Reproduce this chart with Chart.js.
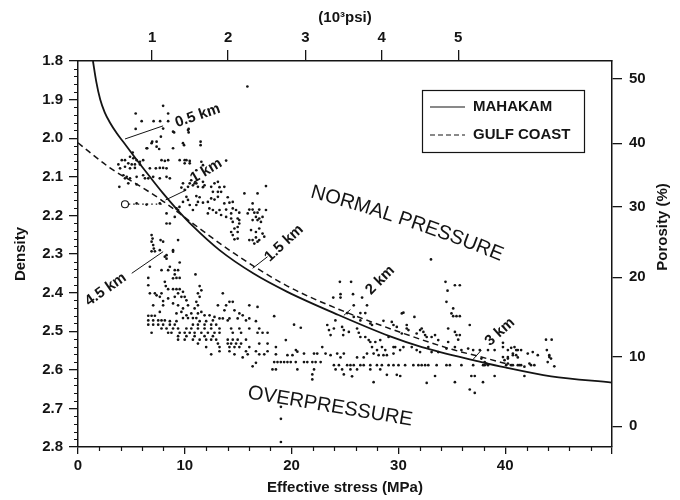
<!DOCTYPE html>
<html>
<head>
<meta charset="utf-8"/>
<script src="https://cdn.jsdelivr.net/npm/chart.js@4.4.1/dist/chart.umd.min.js"></script>
<style>
  html, body { margin: 0; padding: 0; background: #fff; }
  #wrap { width: 680px; height: 500px; }
</style>
</head>
<body>
<div id="wrap"><canvas id="chart" width="680" height="500"></canvas></div>
<script>
  // Compaction trends, [effective stress MPa, density g/cc]
  var mahakamCurve = [[1.4,1.8],[1.7,1.852],[2.08,1.9],[2.5,1.933],[3.0,1.96],[3.6,1.986],[4.25,2.01],[5.49,2.056],
    [6.73,2.1],[7.97,2.143],[9.22,2.183],[10.76,2.228],[13.25,2.29],[16.4,2.35],[19.6,2.398],[24.4,2.458],
    [29.1,2.512],[32.2,2.541],[37.5,2.578],[40,2.594],[44.3,2.617],[50,2.633]];
  var gulfCoastCurve = [[0,2.012],[3,2.077],[5.8,2.124],[7.7,2.158],[10.8,2.222],[14.6,2.298],[19.6,2.383],
    [24.4,2.443],[30.3,2.504],[35,2.547],[37.5,2.565],[40.6,2.588]];

  // Well data, grouped by area of the plot
  var shallowWells = [[7.97,1.916],[5.4,1.936],[5.96,1.956],[7.08,1.956],[7.69,1.956],[8.44,1.936],[8.44,1.956],
    [5.4,1.976],[7.97,1.975],[9.0,1.985],[10.36,1.976],[10.36,1.985],[7.76,1.996],[6.95,2.009],[7.36,2.009],
    [11.48,2.009],[11.48,2.018],[6.42,2.026],[7.36,2.022],[8.9,2.026],[9.93,2.018],[6.89,2.013],[6.48,2.026],
    [7.6,2.028],[10.3,1.979],[9.83,2.013],[5.12,2.037],[4.1,2.057],[4.4,2.057],[4.87,2.048],[5.18,2.052],
    [5.49,2.057],[5.8,2.061],[6.1,2.057],[4.71,2.065],[5.03,2.068],[5.33,2.068],[5.8,2.068],[4.4,2.074],
    [4.87,2.078],[5.33,2.077],[3.78,2.068],[3.94,2.078],[4.25,2.096],[4.56,2.1],[4.4,2.104],[4.87,2.104],
    [5.49,2.1],[6.1,2.096],[6.27,2.104],[6.58,2.104],[7.04,2.1],[7.66,2.104],[3.87,2.126],[4.71,2.117],
    [5.49,2.12],[6.73,2.078],[7.29,2.078],[7.66,2.077],[7.97,2.077],[8.29,2.078],[7.82,2.057],[8.13,2.059],
    [8.44,2.057],[8.29,2.1],[8.6,2.104],[10.15,2.057],[10.46,2.059],[10.3,2.126],[9.68,2.128],[10.6,2.109],
    [10.76,2.122],[11.08,2.117],[10.15,2.152],[10.3,2.16],[9.83,2.165],[10.46,2.173],[9.5,2.178],[9.22,2.182],
    [9.37,2.186],[5.49,2.169],[6.42,2.172],[7.66,2.169],[8.29,2.195],[9.06,2.204],[8.29,2.221],[8.6,2.221],
    [11.08,2.173],[10.76,2.186],[8.9,1.983],[9.52,2.057],[9.99,2.057],[11.08,2.083],[11.7,2.07],[11.55,2.061],
    [13.87,2.058]];

  var upperWells = [[15.86,1.866],[9.99,2.065],[10.46,2.065],[9.83,2.117],[10.46,2.117],[10.92,2.117],[11.23,2.126],
    [11.7,2.113],[11.85,2.122],[11.7,2.127],[12.47,2.126],[12.78,2.117],[13.1,2.113],[13.25,2.127],[13.7,2.126],
    [12.63,2.139],[13.1,2.139],[13.4,2.139],[9.99,2.134],[11.08,2.15],[11.39,2.153],[11.23,2.165],[11.7,2.167],
    [12.16,2.165],[12.47,2.156],[12.78,2.159],[13.1,2.152],[14.02,2.153],[14.18,2.167],[14.49,2.165],[13.7,2.169],
    [12.3,2.182],[12.63,2.186],[12.16,2.195],[12.94,2.193],[13.25,2.186],[13.4,2.199],[13.87,2.185],[14.34,2.195],
    [14.49,2.182],[14.8,2.186],[15.1,2.193],[13.87,2.204],[14.34,2.208],[14.49,2.217],[14.95,2.208],[15.1,2.212],
    [15.1,2.221],[14.95,2.23],[14.65,2.234],[14.34,2.243],[14.95,2.243],[14.49,2.251],[14.65,2.262],[14.95,2.26],
    [15.58,2.143],[16.81,2.143],[17.6,2.124],[16.04,2.185],[16.35,2.185],[16.51,2.193],[16.81,2.193],[16.97,2.185],
    [17.6,2.186],[16.66,2.204],[16.97,2.208],[17.13,2.217],[16.2,2.238],[16.66,2.243],[16.97,2.234],[17.28,2.247],
    [16.04,2.264],[16.35,2.264],[16.66,2.257],[16.97,2.264],[16.51,2.273],[16.81,2.268],[17.44,2.255],[16.35,2.169],
    [17.28,2.204],[16.81,2.212],[16.35,2.212],[15.89,2.195]];

  var deepWells = [[6.89,2.251],[6.98,2.26],[6.89,2.268],[7.04,2.277],[7.1,2.286],[6.89,2.293],[7.2,2.293],
    [7.73,2.264],[9.37,2.264],[7.97,2.268],[8.9,2.29],[7.66,2.29],[8.13,2.307],[8.29,2.303],[8.29,2.312],
    [8.9,2.294],[9.52,2.322],[8.6,2.333],[6.73,2.333],[7.82,2.342],[8.44,2.342],[9.06,2.342],[9.37,2.342],
    [9.06,2.353],[9.22,2.362],[9.52,2.362],[8.9,2.363],[11.0,2.353],[6.58,2.362],[6.58,2.381],[8.13,2.372],
    [8.22,2.383],[8.44,2.391],[8.9,2.391],[9.22,2.391],[9.52,2.391],[9.83,2.398],[9.37,2.402],[9.68,2.411],
    [9.99,2.411],[10.15,2.42],[9.06,2.411],[8.44,2.415],[7.97,2.422],[7.36,2.407],[7.2,2.402],[7.66,2.411],
    [7.82,2.402],[11.39,2.383],[11.55,2.394],[11.23,2.402],[11.39,2.411],[11.08,2.424],[11.23,2.433],[10.92,2.441],
    [7.97,2.433],[8.9,2.428],[9.37,2.433],[9.83,2.441],[10.3,2.433],[9.68,2.45],[9.22,2.454],[10.15,2.459],
    [10.61,2.454],[11.23,2.454],[11.55,2.45],[11.85,2.459],[12.32,2.459],[12.78,2.463],[13.56,2.402],[14.18,2.424],
    [13.87,2.433],[13.71,2.446],[13.1,2.433],[14.49,2.424],[16.04,2.433],[16.81,2.437],[14.65,2.446],[15.11,2.454],
    [15.42,2.459],[16.04,2.467],[13.25,2.467],[14.02,2.472],[6.73,2.402],[7.04,2.433],[7.66,2.45],
    [6.58,2.46],[6.89,2.46],[7.2,2.46],[6.58,2.472],[7.04,2.472],[7.51,2.472],[7.82,2.472],[8.13,2.472],
    [8.6,2.474],[9.22,2.474],[9.83,2.466],[10.3,2.466],[10.76,2.466],[11.08,2.466],[11.39,2.474],[12.0,2.474],
    [12.63,2.472],[13.56,2.467],[14.18,2.467],[14.95,2.467],[15.73,2.472],[16.66,2.474]];

  var deepRows = [[6.58,2.483],[7.04,2.483],[7.51,2.483],[7.97,2.483],[8.6,2.483],[9.06,2.483],[10.76,2.483],
    [11.23,2.483],[11.85,2.483],[12.47,2.483],[12.94,2.483],
    [7.82,2.493],[8.29,2.493],[8.9,2.493],[9.37,2.493],[10.15,2.493],[10.61,2.493],[11.23,2.493],[11.85,2.493],
    [12.47,2.493],[13.25,2.493],[14.34,2.493],[15.11,2.493],[16.04,2.493],[16.97,2.493],
    [6.89,2.504],[8.44,2.504],[8.75,2.504],[9.52,2.504],[9.99,2.504],[10.46,2.504],[10.92,2.504],[11.55,2.504],
    [12.16,2.504],[12.78,2.504],[13.25,2.504],[14.49,2.504],[15.27,2.504],[16.81,2.504],[17.28,2.504],[17.75,2.504],
    [9.37,2.513],[10.15,2.513],[10.92,2.513],[11.85,2.513],[12.63,2.513],
    [9.37,2.522],[9.99,2.522],[10.76,2.522],[11.39,2.522],[12.0,2.522],[12.47,2.522],[12.94,2.522],[14.02,2.522],
    [14.49,2.522],[14.95,2.522],[15.73,2.522],
    [11.23,2.532],[13.1,2.532],[14.02,2.532],[14.34,2.532],[14.8,2.532],[15.27,2.532],[16.97,2.532],[17.75,2.532],
    [12.0,2.541],[13.25,2.541],[14.18,2.541],[14.65,2.541],[15.11,2.541],[16.04,2.541],[18.53,2.541],
    [13.25,2.552],[14.18,2.552],[15.73,2.552],[16.66,2.552],[17.75,2.552],
    [12.47,2.56],[14.65,2.56],[15.89,2.56],[16.97,2.56],[17.44,2.56],[18.53,2.56],
    [15.42,2.568],[16.35,2.591],[16.66,2.582]];

  var midWells = [[24.52,2.372],[25.57,2.372],[23.9,2.413],[24.58,2.404],[24.58,2.413],[25.75,2.404],[26.6,2.413],
    [25.82,2.433],[27.06,2.433],[18.37,2.461],[20.23,2.483],[20.86,2.491],[24.1,2.472],[25.2,2.453],[25.82,2.463],
    [26.44,2.453],[26.9,2.453],[26.44,2.472],[27.37,2.48],[27.53,2.484],[28.6,2.473],[29.54,2.484],[30.32,2.454],
    [23.34,2.484],[23.5,2.497],[23.96,2.493],[23.65,2.51],[24.73,2.489],[24.89,2.497],[24.83,2.51],[25.36,2.502],
    [26.13,2.493],[26.29,2.504],[26.44,2.515],[26.9,2.515],[27.22,2.523],[27.37,2.528],[27.53,2.541],[27.84,2.528],
    [28.0,2.549],[28.3,2.523],[28.46,2.541],[28.77,2.549],[28.92,2.562],[28.15,2.562],[29.08,2.515],[29.54,2.541],
    [30.16,2.549],[30.32,2.506],[19.46,2.523],[20.4,2.549],[20.54,2.553],[19.61,2.562],[20.08,2.562],
    [21.16,2.558],[22.1,2.558],[22.4,2.558],[22.87,2.541],[23.18,2.558],[23.65,2.562],[24.58,2.568],[24.27,2.558],
    [24.89,2.558],[26.13,2.568],[26.75,2.568],[27.06,2.558],[27.68,2.558],[28.6,2.562],[29.54,2.558],
    [18.37,2.58],[18.68,2.58],[18.99,2.58],[19.3,2.58],[19.61,2.58],[19.92,2.58],[20.39,2.58],[21.16,2.58],
    [21.47,2.58],[21.94,2.58],[22.25,2.58],[22.72,2.58],[23.96,2.588],[24.43,2.588],[25.2,2.588],[25.51,2.588],
    [25.82,2.588],[26.44,2.588],[26.75,2.588],[27.37,2.588],[27.99,2.588],[28.45,2.588],[29.08,2.588],[29.54,2.588],
    [30.01,2.588],[18.21,2.599],[18.53,2.599],[20.54,2.599],[22.1,2.599],[24.12,2.599],[24.73,2.599],[25.51,2.599],
    [26.13,2.599],[27.37,2.599],[28.3,2.599],[21.94,2.612],[24.89,2.612],[25.66,2.617],[21.94,2.625],[28.92,2.613],
    [29.85,2.613],[27.68,2.632],[19.0,2.696],[19.0,2.727],[19.0,2.787]];

  var eastWells = [[33.05,2.314],[34.41,2.372],[35.29,2.381],[35.75,2.381],[34.6,2.395],[34.5,2.424],[35.13,2.441],
    [34.97,2.454],[35.13,2.461],[35.44,2.461],[35.75,2.461],[30.47,2.452],[31.5,2.463],[30.78,2.484],[30.78,2.493],
    [32.18,2.493],[32.34,2.502],[32.5,2.51],[34.66,2.493],[35.29,2.502],[35.44,2.51],[35.75,2.51],[35.6,2.522],
    [36.68,2.484],[33.43,2.51],[34.66,2.528],[29.38,2.476],[29.85,2.489],[30.94,2.497],[31.71,2.506],[32.03,2.497],
    [32.65,2.515],[33.11,2.515],[33.73,2.523],
    [29.7,2.541],[30.47,2.541],[31.25,2.541],[31.71,2.549],[32.03,2.554],[32.8,2.541],[33.11,2.554],[33.73,2.554],
    [34.5,2.545],[35.29,2.541],[35.9,2.549],[36.53,2.545],[37.0,2.549],[37.62,2.549],[38.39,2.549],[39.01,2.549],
    [39.79,2.541],[40.25,2.549],[40.87,2.541],[41.03,2.549],[40.72,2.558],[41.49,2.549],[42.11,2.558],[42.58,2.554],
    [43.05,2.562],[44.13,2.562],[44.29,2.571],[43.98,2.58],[43.82,2.522],[44.35,2.522],[39.79,2.53],
    [30.63,2.588],[31.4,2.588],[31.87,2.588],[32.18,2.588],[32.5,2.588],[32.8,2.588],[33.58,2.588],[34.5,2.588],
    [34.82,2.588],[35.9,2.588],[37.0,2.588],[37.93,2.588],[38.08,2.588],[38.39,2.588],[40.09,2.588],[40.56,2.588],
    [41.18,2.588],[41.49,2.588],[42.42,2.588],[42.73,2.588],
    [30.17,2.616],[33.43,2.616],[36.83,2.616],[37.15,2.616],[39.01,2.616],[41.8,2.616],
    [38.23,2.584],[38.08,2.58],[37.77,2.571],[39.79,2.567],[40.25,2.571],[40.72,2.562],[41.03,2.562],
    [36.68,2.651],[37.15,2.66],[37.92,2.632],[35.29,2.632],[32.65,2.634],
    [43.9,2.549],[44.13,2.567],[44.6,2.591],[40.56,2.543],[41.18,2.549],[40.25,2.567],[41.18,2.568],[39.94,2.575],
    [40.25,2.584],[40.72,2.588],[41.34,2.588],[41.8,2.592],[42.27,2.584]];

  // Single sample drawn as an open circle, joined to the cluster by a dotted line
  var openSample = [4.4, 2.171];
  var openSampleLinkEnd = 8.1;

  // Secondary axes
  var porosityTicks = [50, 40, 30, 20, 10, 0];
  var porosityTickDensity = [1.846, 2.013, 2.178, 2.36, 2.567, 2.746];
  var psiTicks = [1, 2, 3, 4, 5];
  var psiTickStress = [6.94, 14.05, 21.3, 28.44, 35.6];

  var depthLabels = ['0.5 km', '1 km', '1.5 km', '2 km', '3 km', '4.5 km'];

  var ink = '#141414';
  var family = '"Liberation Sans", Arial, Helvetica, sans-serif';
  var boldFont = { family: family, size: 15, weight: 'bold' };

  function xy(pairs) {
    return pairs.map(function(p) { return { x: p[0], y: p[1] }; });
  }

  var wells = [].concat(shallowWells, upperWells, deepWells, deepRows, midWells, eastWells);

  // where the depth labels and their leader lines sit, in stress/density units
  var depthLayout = [
    { at: [11.2, 1.942], angle: -19, from: [4.4, 2.002], to: [7.97, 1.968] },
    { at: [12.0, 2.085], angle: -31, from: [8.2, 2.16], to: [10.15, 2.134] },
    { at: [19.3, 2.272], angle: -43, from: [16.35, 2.337], to: [17.75, 2.307] },
    { at: [28.3, 2.368], angle: -45, from: [24.89, 2.459], to: [25.51, 2.444] },
    { at: [39.5, 2.502], angle: -42, from: [36.99, 2.573], to: [37.77, 2.549] },
    { at: [2.6, 2.392], angle: -35, from: [5.03, 2.35], to: [7.97, 2.294] }
  ];

  function textAt(ctx, text, x, y, deg) {
    ctx.save();
    ctx.translate(x, y);
    ctx.rotate(deg * Math.PI / 180);
    ctx.fillText(text, 0, 0);
    ctx.restore();
  }

  // lays text out letter by letter while the angle bends from a0 to a1
  function bentText(ctx, text, x, y, a0, a1) {
    var total = ctx.measureText(text).width, run = 0;
    for (var i = 0; i < text.length; i++) {
      var w = ctx.measureText(text[i]).width;
      var a = (a0 + (a1 - a0) * (run + w / 2) / total) * Math.PI / 180;
      ctx.save();
      ctx.translate(x, y);
      ctx.rotate(a);
      ctx.fillText(text[i], 0, 0);
      ctx.restore();
      x += Math.cos(a) * w;
      y += Math.sin(a) * w;
      run += w;
    }
  }

  var extras = {
    id: 'extras',
    afterDraw: function(chart) {
      var ctx = chart.ctx, xs = chart.scales.x, ys = chart.scales.y;
      var area = chart.chartArea;
      function px(p) { return [xs.getPixelForValue(p[0]), ys.getPixelForValue(p[1])]; }
      ctx.save();
      ctx.strokeStyle = ink;
      ctx.fillStyle = ink;

      // minor ticks on density and stress axes
      ctx.lineWidth = 1.2;
      ctx.beginPath();
      for (var i = 1; i < 50; i++) {
        if (i % 5 === 0) continue;
        var yy = Math.round(ys.getPixelForValue(1.8 + i * 0.02)) + 0.5;
        ctx.moveTo(area.left - 4, yy);
        ctx.lineTo(area.left, yy);
      }
      for (var j = 1; j < 25; j++) {
        if (j % 5 === 0) continue;
        var xx = Math.round(xs.getPixelForValue(j * 2)) + 0.5;
        ctx.moveTo(xx, area.bottom);
        ctx.lineTo(xx, area.bottom + 4);
      }
      ctx.stroke();

      // depth labels with leader lines
      ctx.lineWidth = 1;
      ctx.font = 'bold 15px ' + family;
      ctx.textAlign = 'center';
      ctx.textBaseline = 'middle';
      depthLayout.forEach(function(d, k) {
        var a = px(d.from), b = px(d.to), c = px(d.at);
        ctx.beginPath();
        ctx.moveTo(a[0], a[1]);
        ctx.lineTo(b[0], b[1]);
        ctx.stroke();
        textAt(ctx, depthLabels[k], c[0], c[1], d.angle);
      });

      // pressure regime captions
      ctx.font = '20px ' + family;
      ctx.textAlign = 'left';
      ctx.textBaseline = 'alphabetic';
      var np = px([21.7, 2.153]);
      bentText(ctx, 'NORMAL PRESSURE', np[0], np[1], 15, 22);
      var op = px([23.6, 2.695]);
      ctx.textAlign = 'center';
      ctx.textBaseline = 'middle';
      textAt(ctx, 'OVERPRESSURE', op[0], op[1], 9.5);

      // legend box
      var lx = area.right - 190, ly = area.top + 29;
      ctx.lineWidth = 1.2;
      ctx.strokeRect(lx + 0.5, ly + 0.5, 162, 62);
      ctx.beginPath();
      ctx.moveTo(lx + 8, ly + 17);
      ctx.lineTo(lx + 43, ly + 17);
      ctx.stroke();
      ctx.setLineDash([5, 3]);
      ctx.beginPath();
      ctx.moveTo(lx + 8, ly + 45);
      ctx.lineTo(lx + 43, ly + 45);
      ctx.stroke();
      ctx.setLineDash([]);
      ctx.font = 'bold 15px ' + family;
      ctx.textAlign = 'left';
      textAt(ctx, 'MAHAKAM', lx + 51, ly + 17, 0);
      textAt(ctx, 'GULF COAST', lx + 51, ly + 45, 0);

      // porosity title reads upward like the density one
      ctx.textAlign = 'center';
      textAt(ctx, 'Porosity (%)', 663, 227, -90);
      ctx.restore();
    }
  };

  function axisGrid(len) {
    return { drawOnChartArea: false, tickLength: len, color: ink, lineWidth: 1.3 };
  }
  var axisBorder = { color: ink, width: 1.5 };

  new Chart(document.getElementById('chart'), {
    type: 'scatter',
    data: {
      datasets: [
        { label: 'MAHAKAM', type: 'line', data: xy(mahakamCurve), borderColor: ink, borderWidth: 1.8,
          pointRadius: 0, fill: false, cubicInterpolationMode: 'monotone' },
        { label: 'GULF COAST', type: 'line', data: xy(gulfCoastCurve), borderColor: ink, borderWidth: 1.5,
          borderDash: [6, 4], pointRadius: 0, fill: false, cubicInterpolationMode: 'monotone' },
        { label: 'link', type: 'line', data: xy([[openSample[0] + 0.35, openSample[1]], [openSampleLinkEnd, openSample[1]]]),
          borderColor: ink, borderWidth: 1.2, borderDash: [1.5, 3], pointRadius: 0, fill: false },
        { label: 'open', data: xy([openSample]), pointRadius: 3.5, backgroundColor: '#fff',
          borderColor: ink, borderWidth: 1.1 },
        { label: 'wells', data: xy(wells), pointRadius: 1.35, backgroundColor: ink, borderWidth: 0 }
      ]
    },
    options: {
      responsive: false,
      animation: false,
      events: [],
      layout: { padding: 0 },
      plugins: { legend: { display: false }, tooltip: { enabled: false } },
      scales: {
        x: {
          type: 'linear', position: 'bottom', min: 0, max: 50,
          ticks: { stepSize: 10, color: ink, font: boldFont, padding: 3, maxRotation: 0,
            callback: function(v) { return v < 50 ? v : ''; } },
          grid: axisGrid(7), border: axisBorder,
          title: { display: true, text: 'Effective stress (MPa)', color: ink, font: boldFont, padding: { top: 0, bottom: 3 } },
          afterFit: function(s) { s.height = 53; }
        },
        x2: {
          type: 'linear', position: 'top', min: 0, max: 50, display: true,
          afterBuildTicks: function(s) { s.ticks = psiTickStress.map(function(v) { return { value: v }; }); },
          ticks: { color: ink, font: boldFont, padding: 3, maxRotation: 0,
            callback: function(v, i) { return psiTicks[i]; } },
          grid: axisGrid(11), border: axisBorder,
          title: { display: true, text: '(10³psi)', color: ink, font: boldFont, padding: { top: 9, bottom: 0 } },
          afterFit: function(s) { s.height = 61; }
        },
        y: {
          type: 'linear', position: 'left', min: 1.8, max: 2.8, reverse: true,
          ticks: { stepSize: 0.1, color: ink, font: boldFont, padding: 6,
            callback: function(v) { return v.toFixed(1); } },
          grid: axisGrid(9), border: axisBorder,
          title: { display: true, text: 'Density', color: ink, font: boldFont, padding: { top: 12, bottom: 0 } },
          afterFit: function(s) { s.width = 78; }
        },
        y2: {
          type: 'linear', position: 'right', min: 1.8, max: 2.8, reverse: true, display: true,
          afterBuildTicks: function(s) { s.ticks = porosityTickDensity.map(function(v) { return { value: v }; }); },
          ticks: { color: ink, font: boldFont, padding: 7,
            callback: function(v, i) { return porosityTicks[i]; } },
          grid: axisGrid(10), border: axisBorder,
          afterFit: function(s) { s.width = 68; }
        }
      }
    },
    plugins: [extras]
  });
</script>
</body>
</html>
